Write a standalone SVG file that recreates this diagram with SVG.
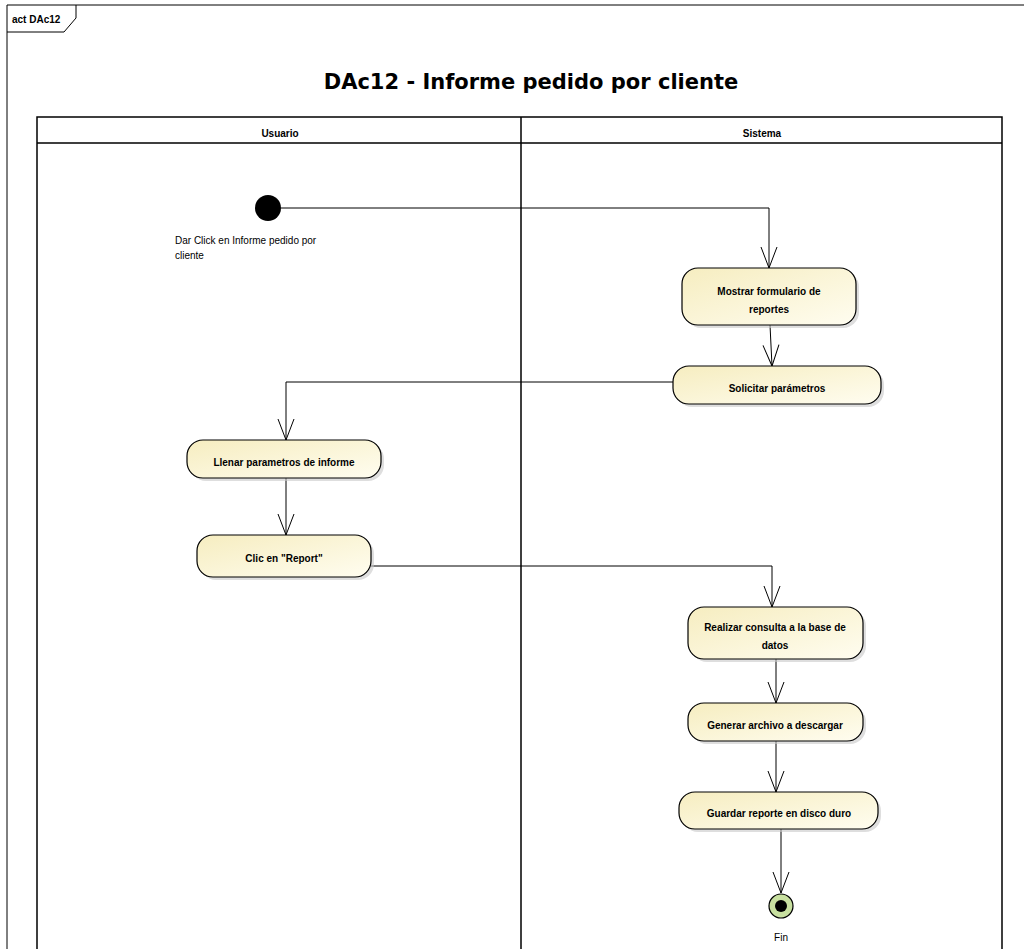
<svg xmlns="http://www.w3.org/2000/svg" width="1024" height="949" viewBox="0 0 1024 949">
<style>
.ln{fill:none;stroke:#000;stroke-width:1}
.lane{fill:none;stroke:#000;stroke-width:1.5}
.act{fill:url(#g);stroke:#000;stroke-width:1.2}
.sh{fill:#c8c8c8;opacity:0.6}
.t{font-family:"Liberation Sans",Arial,sans-serif;font-size:10px;font-weight:bold;text-anchor:middle;fill:#000}
.n{font-family:"Liberation Sans",Arial,sans-serif;font-size:10px;fill:#000}
</style>
<defs>
<linearGradient id="g" x1="0" y1="0" x2="1" y2="1">
<stop offset="0" stop-color="#F6EDC0"/>
<stop offset="1" stop-color="#FFFDF0"/>
</linearGradient>
<marker id="a" markerWidth="24" markerHeight="20" refX="22" refY="10" orient="auto" markerUnits="userSpaceOnUse">
<path d="M1,2 L22,10 L1,18" fill="none" stroke="#000" stroke-width="1"/>
</marker>
</defs>
<rect width="1024" height="949" fill="#fff"/>
<g id="frame">
<path class="ln" d="M7,949 V5 H1024"/>
<path class="ln" d="M7,32 H64 L76,18 V5"/>
<text x="12" y="23" class="n" style="font-weight:bold">act DAc12</text>
<text x="531" y="89" style="font-family:'DejaVu Sans',sans-serif;font-size:21px;font-weight:bold;text-anchor:middle">DAc12 - Informe pedido por cliente</text>
</g>
<g id="lanes">
<path class="lane" d="M37,949 V117 H1002 V949 M521,117 V949 M37,143 H1002"/>
<text x="280" y="137" class="t">Usuario</text>
<text x="762" y="137" class="t">Sistema</text>
</g>
<g id="connectors">
<path class="ln" d="M281,208 H769 V268" marker-end="url(#a)"/>
<path class="ln" d="M770,325 L772,366" marker-end="url(#a)"/>
<path class="ln" d="M673,382 H286 V440" marker-end="url(#a)"/>
<path class="ln" d="M286,478 V535" marker-end="url(#a)"/>
<path class="ln" d="M371,566 H772 V607" marker-end="url(#a)"/>
<path class="ln" d="M776,659 V703" marker-end="url(#a)"/>
<path class="ln" d="M776,741 V792" marker-end="url(#a)"/>
<path class="ln" d="M781,829 V893" marker-end="url(#a)"/>
</g>
<g id="start">
<circle cx="268" cy="208" r="13" fill="#000"/>
<text x="175" y="244" class="n">Dar Click en Informe pedido por</text>
<text x="175" y="259" class="n">cliente</text>
</g>
<g id="mostrar">
<rect class="sh" x="685" y="271" width="174" height="57" rx="16"/>
<rect class="act" x="682" y="268" width="174" height="57" rx="16"/>
<text x="769" y="295" class="t">Mostrar formulario de</text>
<text x="769" y="313" class="t">reportes</text>
</g>
<g id="solicitar">
<rect class="sh" x="676" y="369" width="208" height="38" rx="16"/>
<rect class="act" x="673" y="366" width="208" height="38" rx="16"/>
<text x="777" y="392" class="t">Solicitar parámetros</text>
</g>
<g id="llenar">
<rect class="sh" x="190" y="443" width="194" height="38" rx="16"/>
<rect class="act" x="187" y="440" width="194" height="38" rx="16"/>
<text x="284" y="466" class="t">Llenar parametros de informe</text>
</g>
<g id="clic">
<rect class="sh" x="200" y="538" width="174" height="42" rx="16"/>
<rect class="act" x="197" y="535" width="174" height="42" rx="16"/>
<text x="284" y="562" class="t">Clic en "Report"</text>
</g>
<g id="realizar">
<rect class="sh" x="691" y="610" width="175" height="52" rx="16"/>
<rect class="act" x="688" y="607" width="175" height="52" rx="16"/>
<text x="775" y="631" class="t">Realizar consulta a la base de</text>
<text x="775" y="649" class="t">datos</text>
</g>
<g id="generar">
<rect class="sh" x="691" y="706" width="175" height="38" rx="16"/>
<rect class="act" x="688" y="703" width="175" height="38" rx="16"/>
<text x="775" y="729" class="t">Generar archivo a descargar</text>
</g>
<g id="guardar">
<rect class="sh" x="682" y="795" width="199" height="37" rx="16"/>
<rect class="act" x="679" y="792" width="199" height="37" rx="16"/>
<text x="779" y="817" class="t">Guardar reporte en disco duro</text>
</g>
<g id="fin">
<circle cx="781" cy="906" r="12" fill="#C8E0A0" stroke="#000" stroke-width="1.2"/>
<circle cx="781" cy="906" r="6" fill="#000"/>
<text x="781" y="941" class="n" style="text-anchor:middle">Fin</text>
</g>
</svg>
